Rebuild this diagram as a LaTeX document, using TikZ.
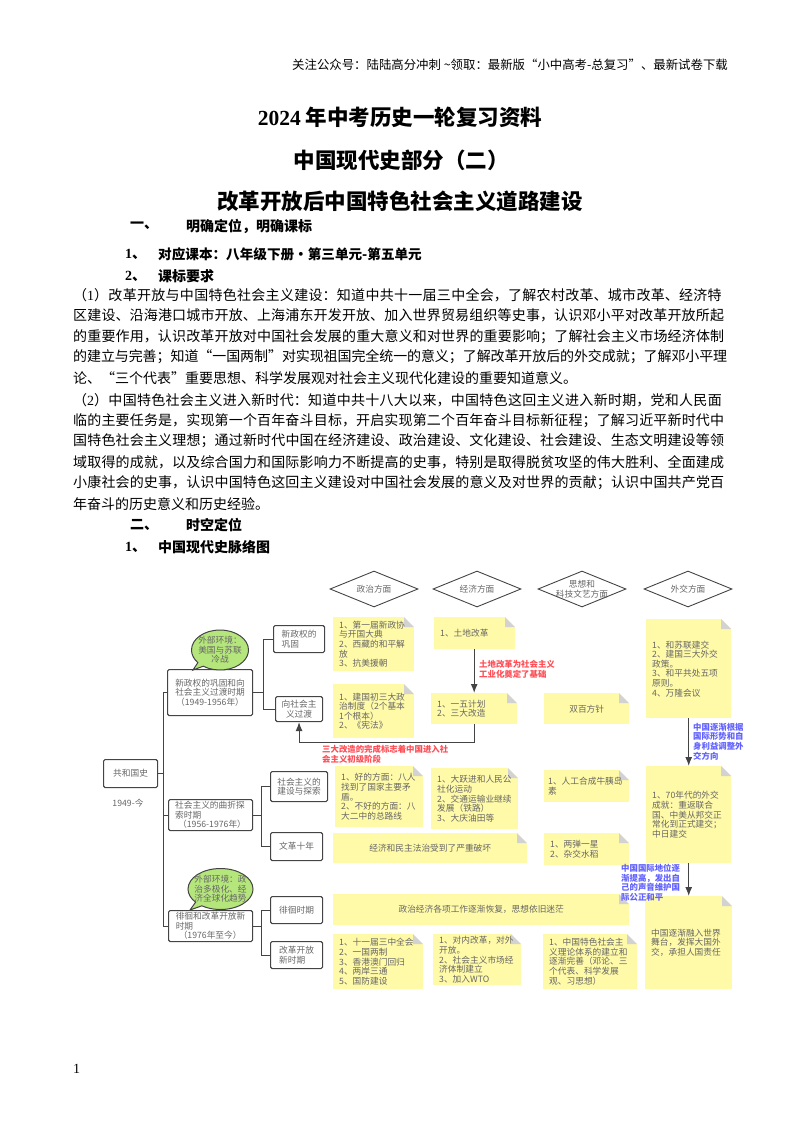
\documentclass[tikz,border=0pt]{standalone}
\usepackage{fontspec}
\setmainfont{Noto Sans CJK SC}
\newfontfamily\latinfont{Liberation Serif}
\usetikzlibrary{shapes.geometric,shapes.callouts,arrows.meta}
\XeTeXlinebreaklocale "zh"
\definecolor{notefill}{HTML}{FFFAA8}
\definecolor{foldgray}{HTML}{D2D2D2}
\definecolor{bubblegreen}{HTML}{B5E67C}
\definecolor{boxline}{HTML}{444444}
\definecolor{boxtext}{HTML}{666666}
\definecolor{notered}{HTML}{FF4D55}
\definecolor{noteblue}{HTML}{6060FF}
\tikzset{
  titleline/.style={inner sep=0pt,font=\fontsize{21.5}{26}\selectfont\bfseries},
  headline/.style={anchor=west,inner sep=0pt,font=\fontsize{14}{18}\selectfont\bfseries},
  bodyline/.style={anchor=west,inner sep=0pt,text width=654pt,font=\fontsize{14}{18}\selectfont,
    execute at begin node={\parfillskip=0pt\relax\XeTeXlinebreakskip=0pt plus 1.5pt minus 1pt\relax}},
  bodyend/.style={anchor=west,inner sep=0pt,font=\fontsize{14}{18}\selectfont},
  smalltext/.style={font=\fontsize{8.7}{9.6}\selectfont,text=boxtext},
  notebox/.style={smalltext,anchor=north west,fill=notefill,inner xsep=6pt,inner ysep=2pt,align=left,
    path picture={
      \fill[white] (path picture bounding box.north east) -- ++(-10,0) -- ++(10,10) -- cycle;
      \fill[foldgray] (path picture bounding box.north east) ++(-10,0) -- ++(10,10) -- ++(-10,0) -- cycle;
    }},
  groupbox/.style={smalltext,anchor=north west,draw=boxline,line width=1.1pt,rounded corners=1.5pt,inner sep=1pt,align=center},
  headdiamond/.style={smalltext,diamond,draw=boxline,line width=0.9pt,aspect=2.44,minimum width=88pt,minimum height=36pt,inner sep=-5pt,align=center},
  envbubble/.style={smalltext,ellipse callout,draw=boxline,line width=1pt,fill=bubblegreen,inner sep=-4pt,align=center},
  tree/.style={draw=boxline,line width=1.1pt},
  flow/.style={draw=boxline,line width=1.1pt,-{Latex[length=9pt,width=7pt]}},
  redlabel/.style={anchor=north west,inner sep=0pt,align=left,text=notered,font=\fontsize{8.4}{9.6}\selectfont\bfseries},
  bluelabel/.style={anchor=north west,inner sep=0pt,align=left,text=noteblue,font=\fontsize{8.4}{9.6}\selectfont\bfseries}
}
\begin{document}
\begin{tikzpicture}[x=1pt,y=-1pt]
\useasboundingbox (0,0) rectangle (800,1132);
% page text
\node[anchor=east,inner sep=0pt,font=\fontsize{12.4}{14}\selectfont] (header) at (728,65) {关注公众号：陆陆高分冲刺 \textasciitilde 领取：最新版“小中高考-总复习”、最新试卷下载};
\node[titleline] (title1) at (400,117) {{\latinfont 2024} 年中考历史一轮复习资料};
\node[titleline] (title2) at (401,160) {中国现代史部分（二）};
\node[titleline] (title3) at (400,201) {改革开放后中国特色社会主义道路建设};
\node[headline] (sec1) at (130,226) {一、};
\node[headline] (sec1t) at (186,226) {明确定位，明确课标};
\node[headline] (sub1) at (125,254) {{\latinfont 1}、};
\node[headline,font=\fontsize{13.6}{18}\selectfont\bfseries] (sub1t) at (158,254) {对应课本：八年级下册·第三单元-第五单元};
\node[headline] (sub2) at (125,276) {{\latinfont 2}、};
\node[headline] (sub2t) at (158,276) {课标要求};
\node[bodyline] (p1) at (73,295) {（{\latinfont 1}）改革开放与中国特色社会主义建设：知道中共十一届三中全会，了解农村改革、城市改革、经济特};
\node[bodyline] (p2) at (73,315) {区建设、沿海港口城市开放、上海浦东开发开放、加入世界贸易组织等史事，认识邓小平对改革开放所起};
\node[bodyline] (p3) at (73,337) {的重要作用，认识改革开放对中国社会发展的重大意义和对世界的重要影响；了解社会主义市场经济体制};
\node[bodyline] (p4) at (73,357) {的建立与完善；知道“一国两制”对实现祖国完全统一的意义；了解改革开放后的外交成就；了解邓小平理};
\node[bodyend] (p5) at (73,378) {论、“三个代表”重要思想、科学发展观对社会主义现代化建设的重要知道意义。};
\node[bodyline] (q1) at (73,400) {（{\latinfont 2}）中国特色社会主义进入新时代：知道中共十八大以来，中国特色这回主义进入新时期，党和人民面};
\node[bodyline] (q2) at (73,421) {临的主要任务是，实现第一个百年奋斗目标，开启实现第二个百年奋斗目标新征程；了解习近平新时代中};
\node[bodyline] (q3) at (73,441) {国特色社会主义理想；通过新时代中国在经济建设、政治建设、文化建设、社会建设、生态文明建设等领};
\node[bodyline] (q4) at (73,462) {域取得的成就，以及综合国力和国际影响力不断提高的史事，特别是取得脱贫攻坚的伟大胜利、全面建成};
\node[bodyline] (q5) at (73,483) {小康社会的史事，认识中国特色这回主义建设对中国社会发展的意义及对世界的贡献；认识中国共产党百};
\node[bodyend] (q6) at (73,504) {年奋斗的历史意义和历史经验。};
\node[headline] (sec2) at (130,525) {二、};
\node[headline] (sec2t) at (186,525) {时空定位};
\node[headline] (sub3) at (125,547) {{\latinfont 1}、};
\node[headline] (sub3t) at (158,547) {中国现代史脉络图};
\node[anchor=west,inner sep=0pt,font=\fontsize{14}{16}\selectfont\latinfont] (pageno) at (73,1069) {1};
% column heads
\node[headdiamond] (zhengzhi) at (374,589) {政治方面};
\node[headdiamond] (jingji) at (477,589) {经济方面};
\node[headdiamond] (sixiang) at (582,589) {思想和\\科技文艺方面};
\node[headdiamond] (waijiao) at (688,589) {外交方面};
% tree boxes
\node[groupbox,minimum width=54pt,minimum height=28pt] (gongheguo) at (103,759) {共和国史};
\node[smalltext,inner sep=0pt] (years) at (128,803) {1949-今};
\node[groupbox,minimum width=85pt,minimum height=46pt] (guodu) at (167,669) {新政权的巩固和向\\社会主义过渡时期\\（1949-1956年）};
\node[groupbox,minimum width=84pt,minimum height=31pt,align=left] (quzhe) at (168,799) {社会主义的曲折探\\索时期\\\hspace*{3pt}（1956-1976年）};
\node[groupbox,minimum width=84pt,minimum height=31pt,align=left] (xinshiqi) at (168,910) {徘徊和改革开放新\\时期\\\hspace*{3pt}（1976年至今）};
\node[groupbox,minimum width=51pt,minimum height=27pt,align=left] (gonggu) at (273,625) {新政权的\\巩固};
\node[groupbox,minimum width=47pt,minimum height=25pt] (xiang) at (275,696) {向社会主\\义过渡};
\node[groupbox,minimum width=57pt,minimum height=30pt] (tansuo) at (270,771) {社会主义的\\建设与探索};
\node[groupbox,minimum width=52pt,minimum height=28pt] (wenge) at (270,832) {文革十年};
\node[groupbox,minimum width=52pt,minimum height=27pt] (paihuai) at (270,896) {徘徊时期};
\node[groupbox,minimum width=52pt,minimum height=27pt,align=left] (gaige) at (270,941) {改革开放\\新时期};
% tree lines
\draw[tree] (gongheguo.east) -- ++(5,0) |- (guodu.west);
\draw[tree] (gongheguo.east) -- ++(5,0) |- (quzhe.west);
\draw[tree] (gongheguo.east) -- ++(5,0) |- (xinshiqi.west);
\draw[tree] (guodu.east) -- ++(10,0) |- (gonggu.west);
\draw[tree] (guodu.east) -- ++(10,0) |- (xiang.west);
\draw[tree] (quzhe.east) -- ++(8,0) |- (tansuo.west);
\draw[tree] (quzhe.east) -- ++(8,0) |- (wenge.west);
\draw[tree] (xinshiqi.east) -- ++(8,0) |- (paihuai.west);
\draw[tree] (xinshiqi.east) -- ++(8,0) |- (gaige.west);
% bubbles
\node[envbubble,minimum width=57pt,minimum height=40pt,callout absolute pointer={(193,670)}] (waibu1) at (220,650) {外部环境：\\美国与苏联\\冷战};
\node[envbubble,minimum width=65pt,minimum height=41pt,callout absolute pointer={(190,910)}] (waibu2) at (220.5,889) {外部环境：政\\治多极化、经\\济全球化趋势};
% notes
\node[notebox,text width=69pt,minimum height=54pt] (n1) at (333,617) {1、第一届新政协\\与开国大典\\2、西藏的和平解\\放\\3、抗美援朝};
\node[notebox,text width=69pt,minimum height=54pt] (n2) at (333,684) {1、建国初三大政\\治制度（2个基本\\1个根本）\\2、《宪法》};
\node[notebox,text width=76pt,minimum height=61pt] (n3) at (335,766) {1、好的方面：八人\\找到了国家主要矛\\盾。\\2、不好的方面：八\\大二中的总路线};
\node[notebox,text width=182pt,minimum height=30pt,align=center] (n4) at (333,833) {经济和民主法治受到了严重破坏};
\node[notebox,text width=284pt,minimum height=31pt,align=center] (n5) at (333,894) {政治经济各项工作逐渐恢复，思想依旧迷茫};
\node[notebox,text width=78pt,minimum height=55pt] (n6) at (333,934) {1、十一届三中全会\\2、一国两制\\3、香港澳门回归\\4、两岸三通\\5、国防建设};
\node[notebox,text width=69pt,minimum height=32pt] (m1) at (434,617) {1、土地改革};
\node[notebox,text width=74pt,minimum height=31pt] (m2) at (431,693) {1、一五计划\\2、三大改造};
\node[notebox,text width=75pt,minimum height=61pt] (m3) at (431,768) {1、大跃进和人民公\\社化运动\\2、交通运输业继续\\发展（铁路）\\3、大庆油田等};
\node[notebox,text width=76pt,minimum height=51pt] (m4) at (433,934) {1、对内改革，对外\\开放。\\2、社会主义市场经\\济体制建立\\3、加入WTO};
\node[notebox,text width=73pt,minimum height=31pt,align=center] (s1) at (544,693) {双百方针};
\node[notebox,text width=77pt,inner xsep=4pt,minimum height=32pt] (s2) at (544,770) {1、人工合成牛胰岛\\素};
\node[notebox,text width=73pt,minimum height=32pt] (s3) at (544,833) {1、两弹一星\\2、杂交水稻};
\node[notebox,text width=82pt,minimum height=55pt] (s4) at (543,934) {1、中国特色社会主\\义理论体系的建立和\\逐渐完善（邓论、三\\个代表、科学发展\\观、习思想）};
\node[notebox,text width=73pt,minimum height=99pt] (w1) at (646,619) {1、和苏联建交\\2、建国三大外交\\政策。\\3、和平共处五项\\原则。\\4、万隆会议};
\node[notebox,text width=73pt,minimum height=97pt] (w2) at (646,766) {1、70年代的外交\\成就：重返联合\\国、中美从邦交正\\常化到正式建交；\\中日建交};
\node[notebox,text width=75pt,minimum height=93pt] (w3) at (645,896) {中国逐渐融入世界\\舞台，发挥大国外\\交，承担人国责任};
% arrows
\draw[flow] (m1.south -| m2.north) -- (m2.north);
\draw[flow] (m2.south) -- ++(0,18) -| (xiang.south);
\draw[flow] (w1.south) -- (w2.north);
\draw[flow] (w2.south) -- (w3.north -| w2.south);
% arrow labels
\node[redlabel] (lab1) at (479,660) {土地改革为社会主义\\工业化奠定了基础};
\node[redlabel] (lab2) at (322,745) {三大改造的完成标志着中国进入社\\会主义初级阶段};
\node[bluelabel] (lab3) at (693,723) {中国逐渐根据\\国际形势和自\\身利益调整外\\交方向};
\node[bluelabel] (lab4) at (621,864) {中国国际地位逐\\渐提高，发出自\\己的声音维护国\\际公正和平};
\end{tikzpicture}
\end{document}
